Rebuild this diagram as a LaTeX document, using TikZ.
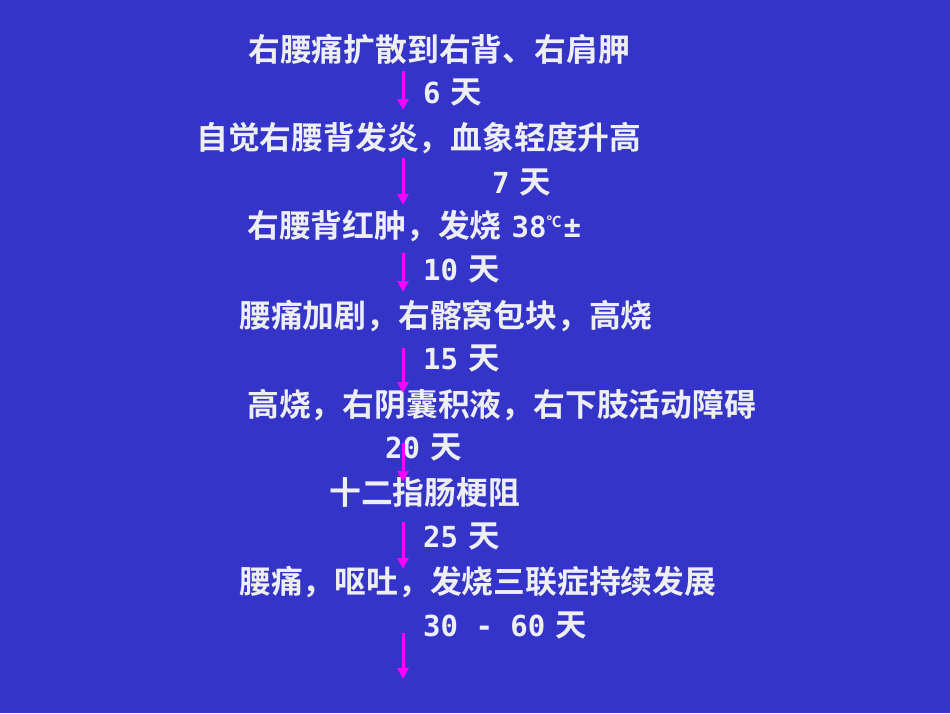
\documentclass[tikz,border=0pt]{standalone}
\usepackage{fontspec}
\newfontfamily\cjk{Noto Sans CJK SC}[BoldFont={Noto Sans CJK SC Bold}]
\newfontfamily\mono{DejaVu Sans Mono}[BoldFont={DejaVu Sans Mono Bold}]
\usetikzlibrary{arrows.meta}
\definecolor{bg}{RGB}{52,52,200}
\definecolor{txt}{RGB}{238,238,246}
\definecolor{arr}{RGB}{255,0,255}
\newcommand{\num}[1]{{\mono\bfseries\fontsize{29}{32}\selectfont #1}}
\newcommand{\tian}{\hspace{10pt}天}
\begin{document}
\begin{tikzpicture}[x=1pt,y=-1pt,
  lbl/.style={anchor=base west,inner sep=0pt,text=txt,font=\cjk\bfseries\fontsize{31.8}{34}\selectfont},
  days/.style={anchor=base west,inner sep=0pt,text=txt,font=\cjk\bfseries\fontsize{31.5}{34}\selectfont},
  flow/.style={draw=arr,line width=3pt,-{Triangle[width=11pt,length=11pt]}}]
\fill[bg] (0,0) rectangle (950,713);
\useasboundingbox (0,0) rectangle (950,713);
% statements
\node[lbl] (s1) at (248,61.5) {右腰痛扩散到右背、右肩胛};
\node[lbl] (s2) at (196,149) {自觉右腰背发炎，血象轻度升高};
\node[lbl] (s3) at (247,237) {右腰背红肿，发烧\hspace{10pt}\num{38}{\fontsize{15}{16}\selectfont\raisebox{10pt}{℃}}\hspace{2pt}\num{±}};
\node[lbl] (s4) at (239,327) {腰痛加剧，右髂窝包块，高烧};
\node[lbl] (s5) at (247,416) {高烧，右阴囊积液，右下肢活动障碍};
\node[lbl] (s6) at (329,504) {十二指肠梗阻};
\node[lbl] (s7) at (239,593) {腰痛，呕吐，发烧三联症持续发展};
% durations
\node[days] (d1) at (423,103) {\num{6}\tian};
\node[days] (d2) at (492,193) {\num{7}\tian};
\node[days] (d3) at (423,280.5) {\num{10}\tian};
\node[days] (d4) at (423,369) {\num{15}\tian};
\node[days] (d5) at (385,458) {\num{20}\tian};
\node[days] (d6) at (423,547) {\num{25}\tian};
\node[days] (d7) at (423,636) {\num{30 - 60}\tian};
% arrow coordinates
\coordinate (a1s) at (403,71);  \coordinate (a1e) at (403,110);
\coordinate (a2s) at (403,158); \coordinate (a2e) at (403,205);
\coordinate (a3s) at (403,253); \coordinate (a3e) at (403,292);
\coordinate (a4s) at (403,348); \coordinate (a4e) at (403,393);
\coordinate (a5s) at (403,443); \coordinate (a5e) at (403,482);
\coordinate (a6s) at (403,522); \coordinate (a6e) at (403,569);
\coordinate (a7s) at (403,633); \coordinate (a7e) at (403,679);
\foreach \i in {1,...,7} {\draw[flow] (a\i s) -- (a\i e);}
\end{tikzpicture}
\end{document}
